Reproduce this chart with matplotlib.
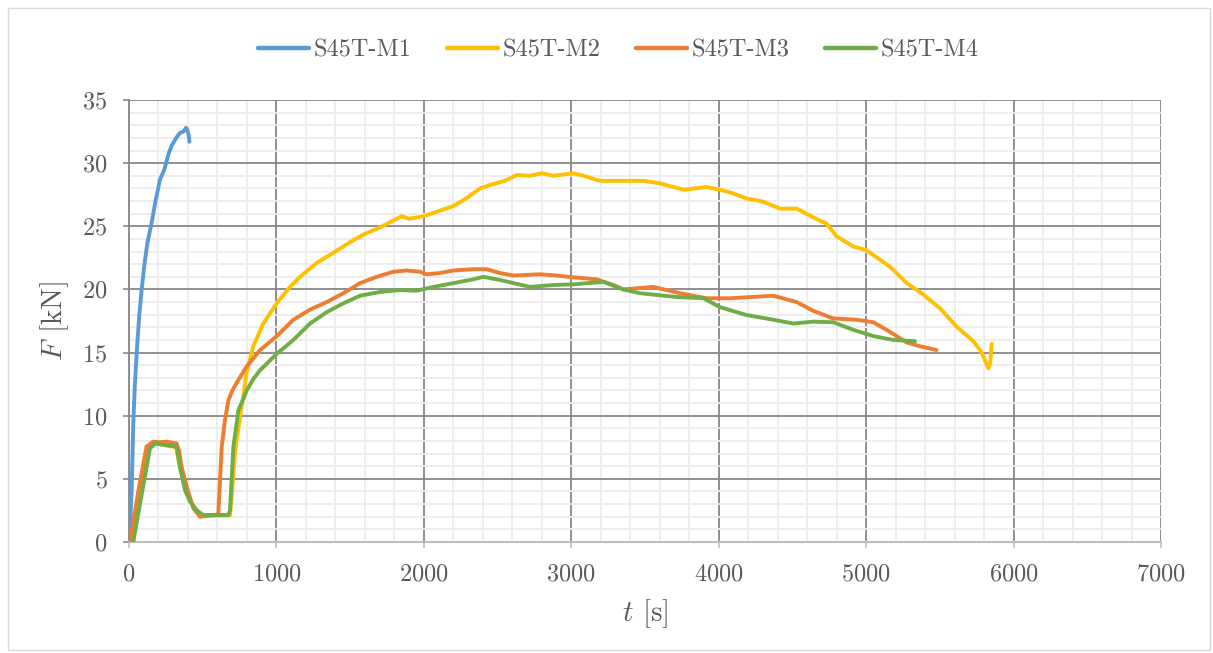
import matplotlib
matplotlib.use("Agg")
import matplotlib.pyplot as plt
from matplotlib.patches import Rectangle
from matplotlib.ticker import MultipleLocator

plt.rcParams['font.family'] = ['cmr10', 'DejaVu Serif']
plt.rcParams['mathtext.fontset'] = 'cm'
plt.rcParams['axes.formatter.use_mathtext'] = True

# ---- data ----
m1_t = [0, 10, 18, 29, 40, 55, 70, 86, 105, 125, 154, 180, 210, 240, 270, 290, 320, 346, 370, 387, 396, 405, 410]
m1_f = [0, 2.0, 4.1, 9.4, 12.5, 15.5, 18.0, 20.0, 22.0, 23.7, 25.3, 27.0, 28.7, 29.5, 30.8, 31.4, 32.0, 32.4, 32.5, 32.8, 32.6, 32.2, 31.7]

m2_t = [20, 50, 90, 140, 175, 230, 320, 335, 350, 380, 420, 460, 500, 600, 685, 700, 715, 730, 764, 798, 843, 911,
        1002, 1092, 1160, 1273, 1386, 1521, 1600, 1700, 1800, 1850, 1900, 2000, 2100, 2200, 2300, 2381, 2471, 2550,
        2630, 2720, 2799, 2878, 3014, 3082, 3195, 3353, 3489, 3601, 3760, 3918, 4008, 4099, 4189, 4302, 4415, 4529,
        4642, 4732, 4800, 4913, 5003, 5161, 5275, 5388, 5501, 5614, 5727, 5784, 5829, 5842, 5852]
m2_f = [0, 2.5, 5.5, 7.5, 7.8, 7.7, 7.5, 6.5, 5.6, 4.3, 3.2, 2.5, 2.1, 2.1, 2.1, 4.0, 6.5, 8.1, 10.7, 13.4, 15.5, 17.3,
        18.9, 20.2, 21.0, 22.1, 22.9, 23.9, 24.4, 24.9, 25.5, 25.8, 25.6, 25.8, 26.2, 26.6, 27.3, 28.0, 28.35, 28.6,
        29.06, 29.0, 29.2, 29.0, 29.2, 29.0, 28.6, 28.6, 28.6, 28.4, 27.9, 28.1, 27.9, 27.6, 27.2, 26.95, 26.4, 26.4,
        25.7, 25.2, 24.2, 23.4, 23.1, 21.8, 20.5, 19.6, 18.5, 17.05, 15.9, 15.0, 13.75, 14.2, 15.7]

m3_t = [7, 60, 119, 165, 210, 255, 323, 340, 357, 391, 436, 482, 595, 606, 629, 651, 674, 697, 730, 798, 889,
        1002, 1115, 1228, 1341, 1454, 1567, 1680, 1793, 1884, 1974, 2019, 2110, 2200, 2335, 2426, 2516, 2607, 2788,
        2901, 3014, 3172, 3285, 3353, 3556, 3737, 3918, 4076, 4370, 4529, 4642, 4777, 4936, 5049, 5139, 5275, 5365, 5478]
m3_f = [0, 3.8, 7.55, 7.95, 7.9, 7.95, 7.8, 7.2, 5.96, 4.4, 2.67, 2.0, 2.14, 2.3, 7.55, 9.66, 11.2, 11.9, 12.6, 13.9, 15.2,
        16.3, 17.6, 18.4, 19.0, 19.7, 20.5, 21.0, 21.4, 21.5, 21.4, 21.2, 21.3, 21.5, 21.6, 21.6, 21.3, 21.1, 21.2,
        21.1, 20.96, 20.8, 20.35, 20.0, 20.2, 19.7, 19.3, 19.3, 19.5, 19.0, 18.3, 17.7, 17.6, 17.4, 16.8, 15.8, 15.5, 15.2]

m4_t = [29, 85, 142, 176, 233, 323, 346, 380, 414, 459, 504, 674, 685, 708, 730, 742, 775, 798, 843, 889,
        1002, 1115, 1228, 1341, 1454, 1567, 1702, 1838, 1951, 2064, 2200, 2335, 2403, 2516, 2720, 2878, 3014, 3218,
        3353, 3466, 3715, 3896, 4008, 4189, 4370, 4506, 4642, 4777, 4913, 5049, 5184, 5331]
m4_f = [0, 3.7, 7.4, 7.8, 7.7, 7.55, 5.96, 4.1, 3.2, 2.5, 2.14, 2.14, 2.5, 7.55, 9.4, 10.45, 11.3, 12.0, 12.9, 13.6,
        14.9, 16.0, 17.3, 18.2, 18.9, 19.5, 19.8, 19.95, 19.9, 20.2, 20.5, 20.8, 21.0, 20.75, 20.2, 20.35, 20.4, 20.6,
        20.0, 19.7, 19.4, 19.3, 18.6, 17.97, 17.6, 17.3, 17.45, 17.4, 16.8, 16.3, 16.0, 15.9]

series_names = ['S45T-M1', 'S45T-M2', 'S45T-M3', 'S45T-M4']
series_colors = ['#5B9BD5', '#FFC000', '#ED7D31', '#70AD47']

x_ticks = [0, 1000, 2000, 3000, 4000, 5000, 6000, 7000]
y_ticks = [0, 5, 10, 15, 20, 25, 30, 35]

# ---- figure ----
fig = plt.figure(figsize=(12.13, 6.53), dpi=100)
fig.patches.append(Rectangle((8 / 1213, 3 / 653), 1202 / 1213, 642 / 653, transform=fig.transFigure,
                             fill=False, edgecolor='#d9d9d9', linewidth=1.0))
ax = fig.add_axes([129 / 1213, 111 / 653, 1032 / 1213, 442 / 653])

text_col = '#595959'
data = [(m1_t, m1_f), (m2_t, m2_f), (m3_t, m3_f), (m4_t, m4_f)]
for i in range(4):
    t, f = data[i]
    ax.plot(t, f, color=series_colors[i], lw=2.8, label=series_names[i],
            solid_capstyle='round', solid_joinstyle='round', zorder=3 + i * 0.1)

ax.set_xlim(0, 7000)
ax.set_ylim(0, 35)
ax.set_xticks(x_ticks)
ax.set_yticks(y_ticks)
ax.xaxis.set_minor_locator(MultipleLocator(200))
ax.yaxis.set_minor_locator(MultipleLocator(1))
ax.grid(which='minor', color='#ededed', lw=1.3, zorder=0)
ax.grid(which='major', color='#878787', lw=1.3, zorder=1)
ax.set_axisbelow(True)

for s in ['top', 'right']:
    ax.spines[s].set_visible(False)
ax.spines['left'].set_color('#878787')
ax.spines['left'].set_linewidth(1.3)
ax.spines['bottom'].set_color('#bfbfbf')
ax.spines['bottom'].set_linewidth(1.5)

ax.tick_params(axis='both', which='major', labelsize=17.5, colors=text_col, length=4.5, width=1.2, direction='out')
ax.tick_params(axis='y', which='major', color='#878787', pad=11)
ax.tick_params(axis='x', which='major', color='#bfbfbf', pad=11)
ax.tick_params(which='minor', length=0)
for lab in ax.get_xticklabels() + ax.get_yticklabels():
    lab.set_color(text_col)

ax.set_xlabel(r'$t$ [s]', fontsize=21, color=text_col, labelpad=8)
ax.set_ylabel(r'$F$ [kN]', fontsize=21, color=text_col, labelpad=8)

leg = ax.legend(loc='center', bbox_to_anchor=(0.474, 1.113), ncol=4, frameon=False, fontsize=17.5,
                handlelength=2.1, handletextpad=0.2, columnspacing=1.45, borderpad=0, borderaxespad=0)
for txt in leg.get_texts():
    txt.set_color(text_col)
for h in leg.get_lines():
    h.set_linewidth(3.2)

fig.savefig('out.png', dpi=100)
